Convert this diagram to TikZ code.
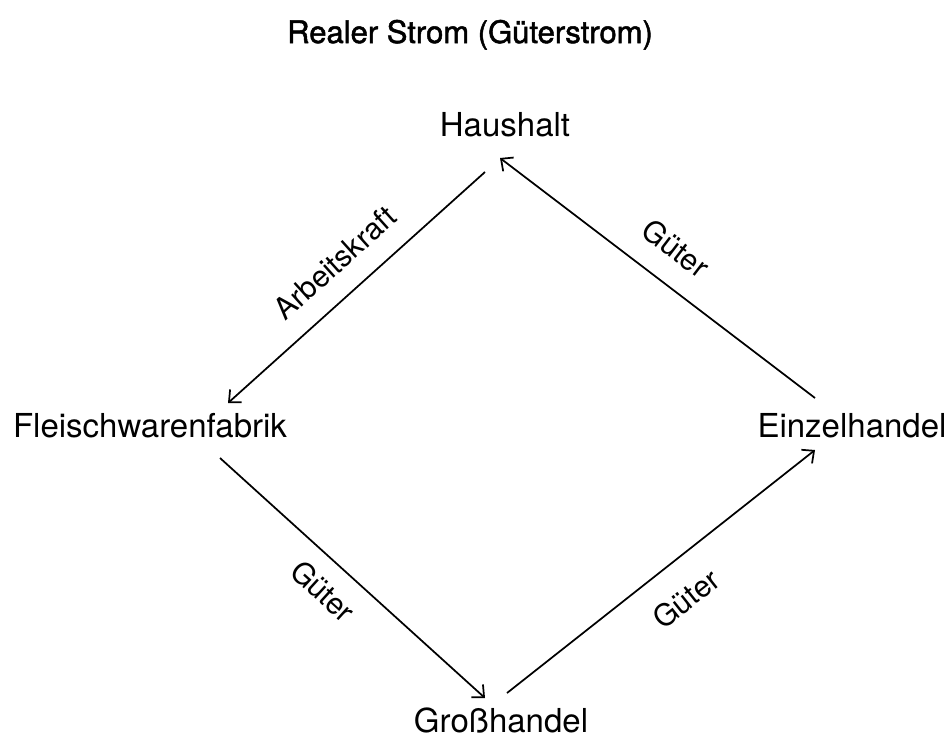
\documentclass[tikz,border=0pt]{standalone}
\usepackage{fontspec}
\setmainfont{TeX Gyre Heros}
\newfontfamily\titlefont[FakeBold=1.6]{TeX Gyre Heros}
\usetikzlibrary{arrows.meta}
\begin{document}
\begin{tikzpicture}[x=0.75pt,y=-0.75pt,
  place/.style={inner sep=0pt,anchor=base,font=\fontsize{24.75}{28}\selectfont},
  lbl/.style={inner sep=0pt,anchor=center,font=\fontsize{22.5}{26}\selectfont},
  arr/.style={line width=1.3pt,-{Straight Barb[length=7pt,width=13pt,line width=1.3pt]}}]
\useasboundingbox (0,0) rectangle (948,740);
\node[inner sep=0pt,anchor=base,font=\titlefont\fontsize{23.25}{27}\selectfont] (title) at (470,43) {Realer Strom (Güterstrom)};
\node[place] (haus) at (505,136) {Haushalt};
\node[place] (fab) at (150,437) {Fleischwarenfabrik};
\node[place] (einz) at (852,437) {Einzelhandel};
\node[place] (gross) at (501,732) {Großhandel};
\draw[arr] ([shift={(-20,36)}]haus.base) -- ([shift={(78,-34)}]fab.base);
\draw[arr] ([shift={(-37,-39)}]einz.base) -- ([shift={(-5,22)}]haus.base);
\draw[arr] ([shift={(70,21)}]fab.base) -- ([shift={(-16,-34)}]gross.base);
\draw[arr] ([shift={(6,-39)}]gross.base) -- ([shift={(-37,13)}]einz.base);
\node[lbl,rotate=42] (l1) at (335,263) {Arbeitskraft};
\node[lbl,rotate=-37.3] (l2) at (676,248) {Güter};
\node[lbl,rotate=-42.2] (l3) at (323,591) {Güter};
\node[lbl,rotate=38.3] (l4) at (686,599) {Güter};
\end{tikzpicture}
\end{document}
